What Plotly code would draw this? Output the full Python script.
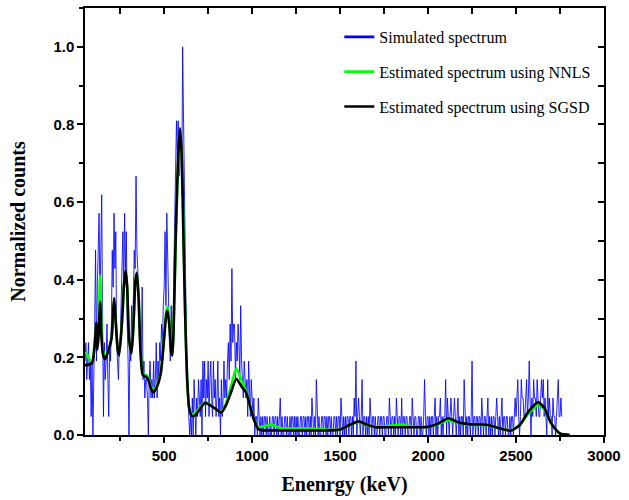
import numpy as np
import plotly.graph_objects as go

# ---------------- data ----------------
# Simulated spectrum: raw counts (normalised by the max count, 21)
low_start_kev, low_step_kev = 50, 5
blue_counts_low = [
    4, 5, 3, 4, 5, 3, 4, 1, 4, 0,
    5, 6, 10, 4, 8, 10, 12, 7, 10, 13,
    6, 1, 5, 3, 4, 6, 3, 1, 5, 4,
    6, 10, 8, 12, 9, 11, 5, 4, 3, 5,
    5, 7, 9, 11, 8, 12, 9, 11, 6, 4,
    0, 5, 4, 7, 5, 8, 10, 9, 14, 10,
    9, 7, 5, 6, 4, 8, 3, 4, 2, 3,
    3, 2, 0, 3, 4, 2, 3, 2, 4, 2,
    3, 5, 2, 4, 3, 5, 4, 6, 5, 7,
    8, 11, 7, 12, 9, 6, 5, 4, 7, 5,
    5, 9, 12, 13, 17, 15, 17, 14, 16, 15,
    13, 21, 17, 13, 7, 6, 3, 2, 1, 0,
    1, 0, 2, 0, 3, 1, 0, 2, 1, 3,
    2, 1, 3, 0, 4, 2, 4, 1, 3, 2,
    4, 1, 3, 4, 2, 1, 4, 2, 3, 1,
    2, 4, 1, 2, 0, 3, 1, 2, 4, 2,
    3, 2, 4, 5, 3, 6, 4, 9, 5, 6,
    6, 3, 5, 4, 6, 5, 3, 7, 4, 3,
    2, 4, 3, 2, 3, 1, 4, 2, 1, 3,
    2, 1, 2, 0, 1, 1, 0, 2, 1, 0,
]
high_start_kev, high_step_kev = 1050, 5
blue_counts_high = [
    1, 0, 1, 0, 1, 1, 0, 1, 0, 0, 1, 0, 0, 1, 1, 0, 1, 1, 0, 1,
    0, 1, 2, 0, 1, 0, 0, 1, 1, 0, 1, 0, 0, 1, 0, 1, 1, 0, 1, 0,
    1, 0, 1, 0, 0, 1, 1, 0, 1, 1, 0, 1, 0, 1, 1, 0, 1, 0, 2, 1,
    0, 1, 0, 3, 1, 0, 1, 0, 0, 1, 1, 0, 1, 1, 0, 1, 0, 1, 1, 0,
    1, 0, 0, 1, 1, 0, 1, 0, 1, 1, 0, 2, 1, 0, 1, 0, 1, 0, 1, 1,
    0, 1, 1, 0, 1, 0, 2, 1, 4, 0, 1, 2, 1, 0, 1, 3, 0, 1, 1, 0,
    1, 0, 1, 0, 2, 1, 0, 1, 1, 0, 1, 0, 0, 1, 1, 0, 1, 1, 0, 1,
    1, 0, 0, 1, 1, 0, 2, 1, 0, 1, 1, 0, 1, 0, 2, 1, 0, 1, 1, 0,
    2, 0, 1, 1, 0, 1, 1, 0, 0, 1, 1, 0, 2, 1, 0, 1, 1, 0, 0, 1,
    1, 0, 1, 0, 0, 1, 3, 1, 0, 1, 1, 0, 1, 0, 1, 1, 0, 1, 2, 0,
    1, 0, 1, 1, 2, 0, 1, 0, 1, 1, 3, 0, 2, 1, 0, 1, 2, 1, 0, 1,
    2, 1, 0, 1, 2, 0, 1, 0, 1, 1, 0, 3, 1, 0, 1, 0, 1, 1, 0, 1,
    4, 0, 1, 1, 0, 1, 1, 0, 1, 1, 0, 2, 1, 0, 1, 1, 0, 1, 2, 0,
    1, 0, 1, 0, 1, 1, 0, 1, 2, 1, 0, 1, 0, 1, 2, 0, 1, 1, 0, 1,
    1, 0, 0, 1, 0, 1, 1, 0, 1, 2, 1, 2, 3, 1, 0, 1, 3, 2, 2, 1,
    1, 2, 3, 1, 2, 4, 1, 0, 2, 1, 3, 2, 2, 1, 3, 2, 1, 1, 2, 3,
    2, 3, 1, 2, 1, 0, 3, 1, 2, 1, 1, 0, 2, 1, 1, 0, 1, 2, 3, 1,
    1, 2, 1,
]
max_count = 21

# Estimated spectrum using SGSD (black)
sgsd_energy = [50, 60, 90, 105, 114, 120, 128, 136, 143, 151, 164, 185, 201, 210, 216, 225, 236, 244,
               260, 272, 281, 290, 300, 314, 325, 337, 345, 355, 365, 378, 395, 407, 425, 438, 455,
               481, 500, 512, 519, 530, 540, 547, 555, 565, 578, 590, 600, 610, 620, 630, 642, 655,
               675, 700, 733, 760, 790, 825, 850, 880, 910, 940, 965, 985, 1010, 1035, 1060, 1200,
               1300, 1450, 1500, 1550, 1605, 1650, 1700, 1800, 1900, 2000, 2060, 2114, 2170, 2230,
               2300, 2340, 2400, 2469, 2520, 2570, 2624, 2660, 2700, 2749, 2805]
sgsd_value = [0.18, 0.18, 0.185, 0.23, 0.29, 0.22, 0.26, 0.343, 0.26, 0.21, 0.195, 0.22, 0.25, 0.32,
              0.353, 0.29, 0.22, 0.205, 0.29, 0.39, 0.425, 0.38, 0.25, 0.21, 0.28, 0.40, 0.417, 0.35,
              0.22, 0.155, 0.15, 0.145, 0.12, 0.11, 0.12, 0.16, 0.25, 0.31, 0.32, 0.28, 0.215, 0.205,
              0.30, 0.50, 0.70, 0.79, 0.72, 0.50, 0.30, 0.15, 0.07, 0.05, 0.05, 0.065, 0.083, 0.077,
              0.068, 0.058, 0.075, 0.11, 0.145, 0.125, 0.11, 0.08, 0.04, 0.015, 0.012, 0.012, 0.012,
              0.012, 0.014, 0.025, 0.035, 0.027, 0.02, 0.02, 0.02, 0.021, 0.03, 0.043, 0.033, 0.028,
              0.027, 0.026, 0.018, 0.011, 0.025, 0.06, 0.084, 0.07, 0.03, 0.004, 0.0]

# Estimated spectrum using NNLS (green)
nnls_energy = [50, 60, 75, 90, 105, 114, 120, 128, 136, 143, 151, 164, 185, 201, 210, 216, 225, 236,
               244, 260, 272, 281, 290, 300, 314, 325, 337, 345, 355, 365, 378, 395, 407, 425, 438,
               455, 481, 500, 512, 519, 530, 540, 547, 555, 565, 578, 590, 600, 610, 620, 630, 642,
               655, 675, 700, 733, 760, 790, 825, 850, 880, 910, 940, 965, 985, 1010, 1035, 1060,
               1110, 1160, 1300, 1380, 1450, 1500, 1550, 1605, 1650, 1700, 1800, 1850, 1900, 2000,
               2060, 2114, 2170, 2230, 2300, 2340, 2400, 2469, 2520, 2570, 2624, 2660, 2700, 2749, 2805]
nnls_value = [0.21, 0.21, 0.195, 0.19, 0.24, 0.29, 0.23, 0.30, 0.41, 0.30, 0.22, 0.20, 0.22, 0.25,
              0.32, 0.35, 0.29, 0.22, 0.21, 0.29, 0.39, 0.42, 0.38, 0.25, 0.21, 0.28, 0.40, 0.42, 0.35,
              0.23, 0.16, 0.155, 0.15, 0.125, 0.115, 0.125, 0.165, 0.26, 0.32, 0.33, 0.29, 0.22, 0.21,
              0.30, 0.49, 0.68, 0.76, 0.72, 0.50, 0.30, 0.15, 0.07, 0.055, 0.055, 0.07, 0.085, 0.078,
              0.068, 0.06, 0.08, 0.125, 0.172, 0.14, 0.115, 0.08, 0.04, 0.022, 0.022, 0.027, 0.018,
              0.017, 0.016, 0.013, 0.015, 0.025, 0.033, 0.026, 0.021, 0.025, 0.027, 0.022, 0.021,
              0.028, 0.038, 0.032, 0.026, 0.026, 0.025, 0.018, 0.012, 0.025, 0.055, 0.077, 0.066,
              0.03, 0.004, 0.0]

x_range = [50, 3000]
y_range = [0, 1.1]

# ---------------- build ----------------
blue_energy = np.concatenate([
    low_start_kev + low_step_kev * np.arange(len(blue_counts_low)),
    high_start_kev + high_step_kev * np.arange(len(blue_counts_high)),
])
blue_value = np.array(blue_counts_low + blue_counts_high) / max_count

BLUE = "rgba(0,0,255,0.85)"
fig = go.Figure()
fig.add_trace(go.Scatter(x=blue_energy, y=blue_value, mode="lines", name="Simulated spectrum",
                         line=dict(color=BLUE, width=1), showlegend=False, legendgroup="a"))
# legend-only entry with the thicker sample line seen in the reference legend
fig.add_trace(go.Scatter(x=[None], y=[None], mode="lines", name="Simulated spectrum",
                         line=dict(color="#0000FF", width=2.6), legendgroup="a"))
fig.add_trace(go.Scatter(x=nnls_energy, y=nnls_value, mode="lines", name="Estimated spectrum using NNLS",
                         line=dict(color="#00FF00", width=2.6, shape="spline", smoothing=0.6), legendgroup="b"))
fig.add_trace(go.Scatter(x=sgsd_energy, y=sgsd_value, mode="lines", name="Estimated spectrum using SGSD",
                         line=dict(color="black", width=2.6, shape="spline", smoothing=0.6), legendgroup="c"))
# hidden trace to anchor mirror axes
fig.add_trace(go.Scatter(x=[None], y=[None], xaxis="x2", yaxis="y2", showlegend=False, hoverinfo="skip"))

tickfont = dict(family="Liberation Sans", size=15, color="black", weight="bold")
titlefont = dict(family="Liberation Serif", size=20, color="black", weight="bold")

fig.update_layout(
    width=629, height=500,
    margin=dict(l=85, r=18, t=8, b=64),
    paper_bgcolor="white", plot_bgcolor="white",
    showlegend=True,
    legend=dict(x=0.49, y=0.972, xanchor="left", yanchor="top",
                font=dict(family="Liberation Serif", size=16, color="black"),
                bgcolor="rgba(0,0,0,0)", tracegroupgap=11, traceorder="grouped"),
    xaxis=dict(range=x_range, showgrid=False, zeroline=False, showline=True, linecolor="black",
               linewidth=1.5, ticks="outside", ticklen=6, tickwidth=1.5, tickcolor="black",
               tick0=0, dtick=500, tickfont=tickfont,
               minor=dict(dtick=250, ticks="outside", ticklen=4, tickwidth=1.5, tickcolor="black"),
               title=dict(text="Enenrgy (keV)", font=titlefont, standoff=14)),
    yaxis=dict(range=y_range, showgrid=False, zeroline=False, showline=True, linecolor="black",
               linewidth=1.5, ticks="outside", ticklen=6, tickwidth=1.5, tickcolor="black",
               tick0=0, dtick=0.2, tickformat=".1f", tickfont=tickfont,
               minor=dict(dtick=0.1, ticks="outside", ticklen=4, tickwidth=1.5, tickcolor="black"),
               title=dict(text="Normalized counts", font=titlefont, standoff=22)),
    xaxis2=dict(range=x_range, overlaying="x", side="top", anchor="y2", showgrid=False, zeroline=False,
                showline=True, linecolor="black", linewidth=1.5, ticks="inside", ticklen=6,
                tickwidth=1.5, tickcolor="black", tick0=0, dtick=250, showticklabels=False),
    yaxis2=dict(range=y_range, overlaying="y", side="right", anchor="x2", showgrid=False, zeroline=False,
                showline=True, linecolor="black", linewidth=1.5, ticks="inside", ticklen=6,
                tickwidth=1.5, tickcolor="black", tick0=0, dtick=0.1, showticklabels=False),
)

fig.write_html("out.html")
